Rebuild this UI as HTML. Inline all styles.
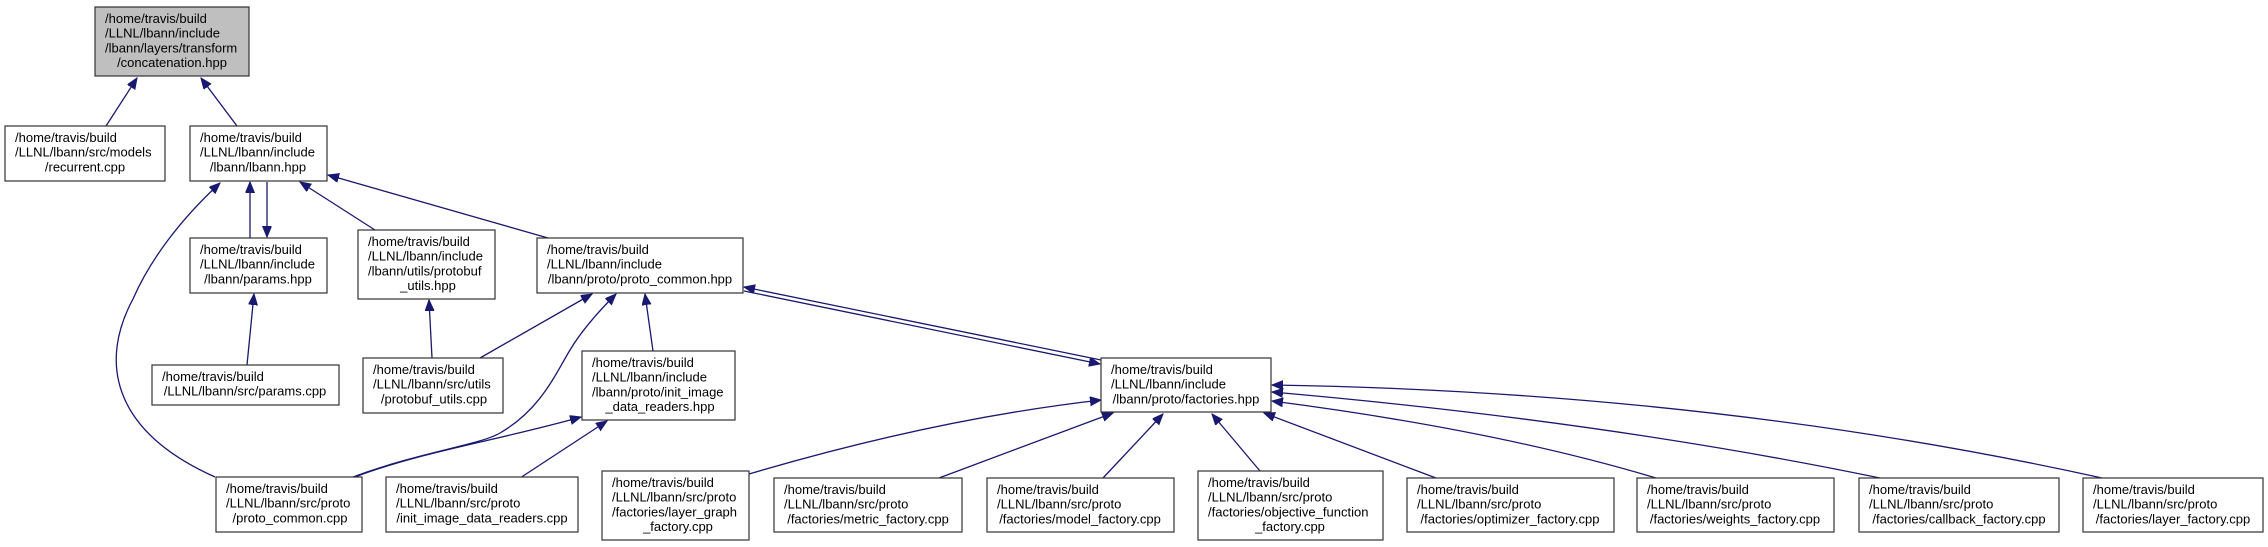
<!DOCTYPE html>
<html><head><meta charset="utf-8"><style>
html,body{margin:0;padding:0;background:#fff;width:2268px;height:547px;overflow:hidden}
svg text{font-family:"Liberation Sans",Arial,sans-serif;font-size:13px;fill:#000}
.b{fill:#fff;stroke:#333;stroke-width:1.2}
.e{fill:none;stroke:#191970;stroke-width:1.3}
</style></head><body>
<svg width="2268" height="547" viewBox="0 0 2268 547" xmlns="http://www.w3.org/2000/svg">
<defs><marker id="a" markerUnits="userSpaceOnUse" markerWidth="12" markerHeight="10" refX="11" refY="4.5" orient="auto"><path d="M0,0 L11,4.5 L0,9 z" fill="#191970" stroke="#191970"/></marker></defs>

<!-- edges -->
<g class="e" marker-end="url(#a)">
<path d="M106,126 L137,78"/>
<path d="M237,126 L201,78"/>
<path d="M250,238 L250,182"/>
<path d="M267,182 L267,237"/>
<path d="M375,230 L300,182"/>
<path d="M548,238 L328,175"/>
<path d="M247,365 L254,294"/>
<path d="M432,358 L429,300"/>
<path d="M215,477 C110,430 100,360 133,299 C150,260 180,220 220,183"/>
<path d="M480,358 L592,294"/>
<path d="M353,477 C420,452 480,445 500,433 C540,410 555,375 570,350 C582,330 600,310 616,294"/>
<path d="M653,351 L645,294"/>
<path d="M355,477 C420,452 500,440 581,417"/>
<path d="M520,478 L607,421"/>
<path d="M1101,360 L744,287"/>
<path d="M744,291 L1100,364"/>
<path d="M749,474 Q935,419 1101,400"/>
<path d="M939,478 L1113,413"/>
<path d="M1103,478 L1163,414"/>
<path d="M1260,471 L1212,414"/>
<path d="M1436,478 L1264,413"/>
<path d="M1656,478 Q1496,430 1272,401"/>
<path d="M1880,478 Q1604,421 1272,392"/>
<path d="M2102,478 Q1713,392 1272,385"/>
</g>

<!-- nodes -->
<rect x="95" y="7" width="154" height="69" fill="#bfbfbf" stroke="#333" stroke-width="1.2"/>
<text x="105" y="23">/home/travis/build</text><text x="105" y="37.7">/LLNL/lbann/include</text><text x="105" y="52.4">/lbann/layers/transform</text><text x="172" y="67.1" text-anchor="middle">/concatenation.hpp</text>

<rect class="b" x="5" y="126" width="160" height="55"/>
<text x="15" y="142">/home/travis/build</text><text x="15" y="156.7">/LLNL/lbann/src/models</text><text x="85" y="171.4" text-anchor="middle">/recurrent.cpp</text>

<rect class="b" x="190" y="126" width="137" height="55"/>
<text x="200" y="142">/home/travis/build</text><text x="200" y="156.7">/LLNL/lbann/include</text><text x="258" y="171.4" text-anchor="middle">/lbann/lbann.hpp</text>

<rect class="b" x="190" y="238" width="137" height="55"/>
<text x="200" y="254">/home/travis/build</text><text x="200" y="268.7">/LLNL/lbann/include</text><text x="258" y="283.4" text-anchor="middle">/lbann/params.hpp</text>

<rect class="b" x="358" y="230" width="137" height="69"/>
<text x="368" y="246">/home/travis/build</text><text x="368" y="260.7">/LLNL/lbann/include</text><text x="368" y="275.4">/lbann/utils/protobuf</text><text x="428" y="290.1" text-anchor="middle">_utils.hpp</text>

<rect class="b" x="537" y="238" width="206" height="55"/>
<text x="547" y="254">/home/travis/build</text><text x="547" y="268.7">/LLNL/lbann/include</text><text x="640" y="283.4" text-anchor="middle">/lbann/proto/proto_common.hpp</text>

<rect class="b" x="152" y="365" width="187" height="40"/>
<text x="162" y="381">/home/travis/build</text><text x="245" y="395.7" text-anchor="middle">/LLNL/lbann/src/params.cpp</text>

<rect class="b" x="363" y="358" width="140" height="55"/>
<text x="373" y="374">/home/travis/build</text><text x="373" y="388.7">/LLNL/lbann/src/utils</text><text x="434" y="403.4" text-anchor="middle">/protobuf_utils.cpp</text>

<rect class="b" x="582" y="351" width="153" height="69"/>
<text x="592" y="367">/home/travis/build</text><text x="592" y="381.7">/LLNL/lbann/include</text><text x="592" y="396.4">/lbann/proto/init_image</text><text x="660" y="411.1" text-anchor="middle">_data_readers.hpp</text>

<rect class="b" x="1101" y="358" width="170" height="54"/>
<text x="1111" y="374">/home/travis/build</text><text x="1111" y="388.7">/LLNL/lbann/include</text><text x="1186" y="403.4" text-anchor="middle">/lbann/proto/factories.hpp</text>

<rect class="b" x="216" y="477" width="146" height="55"/>
<text x="226" y="493">/home/travis/build</text><text x="226" y="507.7">/LLNL/lbann/src/proto</text><text x="290" y="522.4" text-anchor="middle">/proto_common.cpp</text>

<rect class="b" x="386" y="477" width="192" height="55"/>
<text x="396" y="493">/home/travis/build</text><text x="396" y="507.7">/LLNL/lbann/src/proto</text><text x="482" y="522.4" text-anchor="middle">/init_image_data_readers.cpp</text>

<rect class="b" x="602" y="471" width="147" height="69"/>
<text x="612" y="487">/home/travis/build</text><text x="612" y="501.7">/LLNL/lbann/src/proto</text><text x="612" y="516.4">/factories/layer_graph</text><text x="678" y="531.1" text-anchor="middle">_factory.cpp</text>

<rect class="b" x="774" y="478" width="188" height="54"/>
<text x="784" y="494">/home/travis/build</text><text x="784" y="508.7">/LLNL/lbann/src/proto</text><text x="868" y="523.4" text-anchor="middle">/factories/metric_factory.cpp</text>

<rect class="b" x="987" y="478" width="187" height="54"/>
<text x="997" y="494">/home/travis/build</text><text x="997" y="508.7">/LLNL/lbann/src/proto</text><text x="1080" y="523.4" text-anchor="middle">/factories/model_factory.cpp</text>

<rect class="b" x="1198" y="471" width="185" height="69"/>
<text x="1208" y="487">/home/travis/build</text><text x="1208" y="501.7">/LLNL/lbann/src/proto</text><text x="1208" y="516.4">/factories/objective_function</text><text x="1290" y="531.1" text-anchor="middle">_factory.cpp</text>

<rect class="b" x="1407" y="478" width="207" height="54"/>
<text x="1417" y="494">/home/travis/build</text><text x="1417" y="508.7">/LLNL/lbann/src/proto</text><text x="1510" y="523.4" text-anchor="middle">/factories/optimizer_factory.cpp</text>

<rect class="b" x="1637" y="478" width="197" height="54"/>
<text x="1647" y="494">/home/travis/build</text><text x="1647" y="508.7">/LLNL/lbann/src/proto</text><text x="1735" y="523.4" text-anchor="middle">/factories/weights_factory.cpp</text>

<rect class="b" x="1859" y="478" width="200" height="54"/>
<text x="1869" y="494">/home/travis/build</text><text x="1869" y="508.7">/LLNL/lbann/src/proto</text><text x="1959" y="523.4" text-anchor="middle">/factories/callback_factory.cpp</text>

<rect class="b" x="2083" y="478" width="180" height="54"/>
<text x="2093" y="494">/home/travis/build</text><text x="2093" y="508.7">/LLNL/lbann/src/proto</text><text x="2173" y="523.4" text-anchor="middle">/factories/layer_factory.cpp</text>
</svg>
</body></html>
